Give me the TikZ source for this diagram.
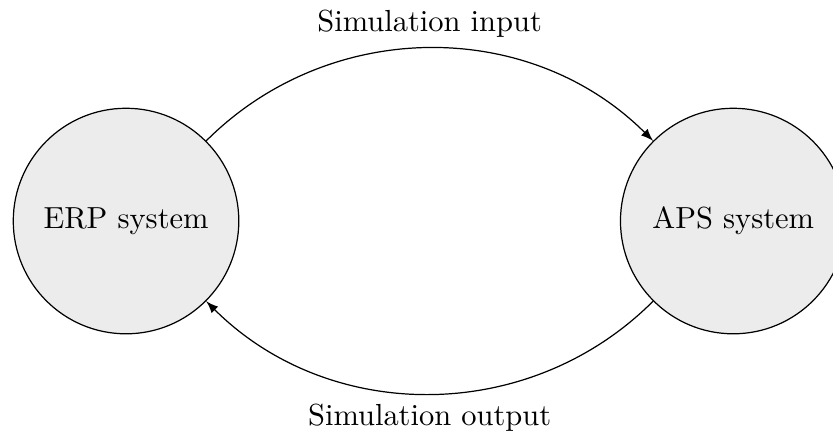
\documentclass[tikz,border=0pt]{standalone}
\usepackage{amssymb}
\usepackage{tikz}
\usetikzlibrary{calc}

\begin{document}
\begin{tikzpicture}[system/.style={circle, draw, fill=gray!15, minimum size=2.6cm}]
        \useasboundingbox (-1.453,-2.456) rectangle (8.15,2.548);
        \node[system] (erp) at (0,0) {ERP system};
        \node[system] (aps) at (7,0) {APS system};
        \draw[-latex] (erp.45) to[out=45, in=135] node[above] (inp) {Simulation input} (aps.135);
        \draw[-latex] (aps.225) to[out=225, in=315] node[below] (outp) {Simulation output} (erp.315);
    \end{tikzpicture}
\end{document}
